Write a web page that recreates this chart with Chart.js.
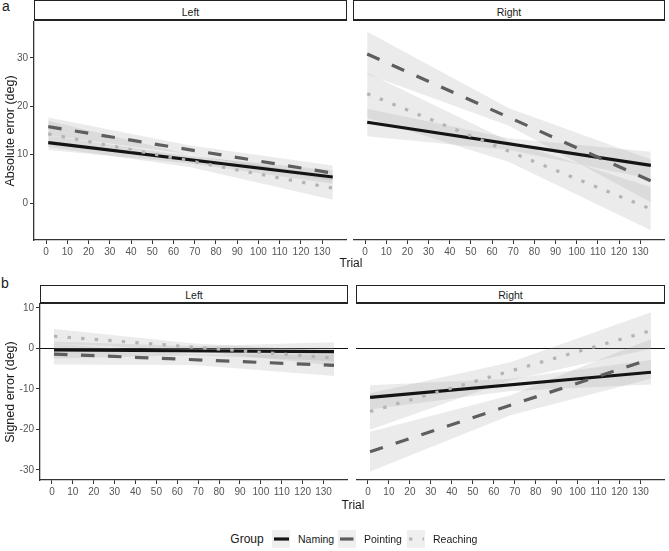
<!DOCTYPE html>
<html>
<head>
<meta charset="utf-8">
<script src="https://cdn.jsdelivr.net/npm/chart.js@4/dist/chart.umd.min.js"></script>
<style>
  body { margin: 0; background: #fff; font-family: "Liberation Sans", Arial, sans-serif; }
  #fig { position: relative; width: 669px; height: 551px; overflow: hidden; }
  #fig canvas { position: absolute; }
  .strip { position: absolute; box-sizing: border-box; background: #fff; border: 1.3px solid #222;
           border-bottom-width: 2px; font-size: 10.5px; color: #1a1a1a; text-align: center; }
  .txt { position: absolute; white-space: nowrap; color: #1a1a1a; transform: translate(-50%, -50%); }
  .rot { transform: translate(-50%, -50%) rotate(-90deg); }
  .key { position: absolute; width: 18px; height: 18px; }
</style>
</head>
<body>
<div id="fig"></div>
<script>
/* Absolute / signed pointing error over trials, linear fits with 95% CI ribbons.
   Two rows (a, b) x two facets (Left, Right). */

// ─── DATA ────────────────────────────────────────────────────
const groups = ['Naming', 'Pointing', 'Reaching'];
const xTicks = [0, 10, 20, 30, 40, 50, 60, 70, 80, 90, 100, 110, 120, 130];
const absTicks = [0, 10, 20, 30];
const signedTicks = [10, 0, -10, -20, -30];

const fitX = [1, 135];        // trial at start / end of each fitted line
const bandX = [1, 68, 135];   // trials where ribbon edges were read

const xRange = [-5.7, 141.7];
const absRange = [-7.6, 37.6];
const signedRange = [-32.5, 11.2];

// rows: Naming, Pointing, Reaching
const absLeftFit = [[12.5, 5.4], [15.8, 6.2], [14.3, 3.1]];
const absLeftLo  = [[11.0, 8.2, 4.0], [14.0, 10.1, 4.5], [11.6, 7.4, 0.7]];
const absLeftHi  = [[13.9, 9.7, 6.8], [17.7, 11.9, 7.8], [17.0, 10.0, 5.6]];

const absRightFit = [[16.7, 7.8], [30.8, 4.6], [22.6, -1.2]];
const absRightLo  = [[13.8, 11.0, 5.0], [26.6, 16.0, 0.2], [17.6, 8.5, -5.6]];
const absRightHi  = [[19.5, 13.4, 10.6], [35.4, 19.6, 9.0], [26.9, 12.8, 3.3]];

const signedLeftFit = [[-0.4, -0.8], [-1.4, -4.2], [3.0, -2.4]];
const signedLeftLo  = [[-2.5, -1.7, -3.1], [-4.0, -4.1, -6.8], [1.2, -0.6, -4.2]];
const signedLeftHi  = [[1.7, 0.5, 1.5], [1.2, -1.5, -1.6], [4.8, 1.2, -0.6]];

const signedRightFit = [[-12.1, -5.9], [-25.5, -2.6], [-15.6, 4.4]];
const signedRightLo  = [[-15.1, -10.5, -8.9], [-30.4, -16.5, -7.5], [-20.1, -7.9, -0.1]];
const signedRightHi  = [[-9.1, -7.5, -2.9], [-20.6, -11.6, 2.3], [-11.1, -3.4, 8.9]];

// ─── STYLE ───────────────────────────────────────────────────
const FONT = "'Liberation Sans', Arial, sans-serif";
const TICK_COLOR = '#555';
const AXIS_COLOR = '#333';
const BAND_FILL = 'rgba(153,153,153,0.2)';
const X_AXIS_H = 22;
const lineStyles = [
  { color: '#141414', dash: [] },
  { color: '#5e5e5e', dash: [13.5, 13.5] },
  { color: '#b4b4b4', dash: [3.4, 10.2] }
];

Chart.defaults.font.family = FONT;

var fig = document.getElementById('fig');

function pts(xs, ys) {
  return xs.map(function(x, i) { return { x: x, y: ys[i] }; });
}

// horizontal reference line at y = 0 (bottom row only)
var zeroLine = {
  id: 'zeroLine',
  beforeDatasetsDraw(chart) {
    var a = chart.chartArea;
    var py = Math.round(chart.scales.y.getPixelForValue(0)) + 0.5;
    var ctx = chart.ctx;
    ctx.save();
    ctx.strokeStyle = '#111';
    ctx.lineWidth = 1;
    ctx.beginPath();
    ctx.moveTo(a.left, py);
    ctx.lineTo(a.right, py);
    ctx.stroke();
    ctx.restore();
  }
};

function makePanel(p) {
  var cv = document.createElement('canvas');
  var w = p.right - p.canvasLeft;
  var h = p.bottom - p.top + X_AXIS_H;
  cv.width = w; cv.height = h;
  cv.style.left = p.canvasLeft + 'px';
  cv.style.top = p.top + 'px';
  cv.style.width = w + 'px';
  cv.style.height = h + 'px';
  fig.appendChild(cv);

  var datasets = [];
  groups.forEach(function(g, i) {
    datasets.push({ data: pts(bandX, p.lo[i]), borderWidth: 0, borderColor: 'rgba(0,0,0,0)',
                    pointRadius: 0, fill: false, order: 10 });
    datasets.push({ data: pts(bandX, p.hi[i]), borderWidth: 0, borderColor: 'rgba(0,0,0,0)',
                    pointRadius: 0, fill: '-1', backgroundColor: BAND_FILL, order: 10 });
  });
  groups.forEach(function(g, i) {
    datasets.push({
      label: g,
      data: pts(fitX, p.fit[i]),
      borderColor: lineStyles[i].color,
      borderWidth: 3.2,
      borderDash: lineStyles[i].dash,
      borderCapStyle: 'butt',
      pointRadius: 0,
      fill: false,
      order: 3 - i
    });
  });

  var tickFont = { size: 10, family: FONT };
  new Chart(cv, {
    type: 'line',
    data: { datasets: datasets },
    plugins: p.zero ? [zeroLine] : [],
    options: {
      responsive: false,
      animation: false,
      layout: { padding: 0 },
      plugins: { legend: { display: false }, tooltip: { enabled: false } },
      scales: {
        x: {
          type: 'linear',
          min: xRange[0], max: xRange[1],
          afterBuildTicks: function(s) { s.ticks = xTicks.map(function(v) { return { value: v }; }); },
          afterFit: function(s) { s.height = X_AXIS_H; s.paddingLeft = 0; s.paddingRight = 0; },
          ticks: { color: TICK_COLOR, font: tickFont, padding: 2, maxRotation: 0, autoSkip: false },
          grid: { drawOnChartArea: false, tickLength: 4, color: AXIS_COLOR },
          border: { color: AXIS_COLOR, width: 1.3 }
        },
        y: {
          type: 'linear',
          display: p.yAxisW > 0,
          min: p.range[0], max: p.range[1],
          afterBuildTicks: function(s) { s.ticks = p.yTicks.map(function(v) { return { value: v }; }); },
          afterFit: function(s) { s.width = p.yAxisW; s.paddingTop = 0; s.paddingBottom = 0; },
          ticks: { color: TICK_COLOR, font: tickFont, padding: 2 },
          grid: { drawOnChartArea: false, tickLength: 4, color: AXIS_COLOR },
          border: { color: AXIS_COLOR, width: 1.3 }
        }
      }
    }
  });
}

function addStrip(text, left, top, width, height, textY) {
  var d = document.createElement('div');
  d.className = 'strip';
  var lh = 2 * (textY - top - 1.3);
  d.style.cssText = 'left:' + left + 'px;top:' + top + 'px;width:' + width + 'px;height:' + height +
                    'px;line-height:' + lh + 'px';
  d.textContent = text;
  fig.appendChild(d);
}

function addText(text, x, y, size, cls) {
  var d = document.createElement('div');
  d.className = 'txt' + (cls ? ' ' + cls : '');
  d.style.left = x + 'px';
  d.style.top = y + 'px';
  d.style.fontSize = size + 'px';
  d.textContent = text;
  fig.appendChild(d);
}

// ─── PANELS ──────────────────────────────────────────────────
var panels = [
  { canvasLeft: 0,   right: 347, top: 21,  bottom: 240, yAxisW: 34, range: absRange, yTicks: absTicks,
    fit: absLeftFit, lo: absLeftLo, hi: absLeftHi, strip: 'Left', stripTop: 0, stripH: 21, stripTextY: 12.5 },
  { canvasLeft: 353, right: 665, top: 21,  bottom: 240, yAxisW: 0,  range: absRange, yTicks: absTicks,
    fit: absRightFit, lo: absRightLo, hi: absRightHi, strip: 'Right', stripTop: 0, stripH: 21, stripTextY: 12.5 },
  { canvasLeft: 0,   right: 348, top: 303, bottom: 480, yAxisW: 40, range: signedRange, yTicks: signedTicks,
    fit: signedLeftFit, lo: signedLeftLo, hi: signedLeftHi, strip: 'Left', stripTop: 285, stripH: 19,
    stripTextY: 295.5, zero: true },
  { canvasLeft: 356, right: 665, top: 303, bottom: 480, yAxisW: 0,  range: signedRange, yTicks: signedTicks,
    fit: signedRightFit, lo: signedRightLo, hi: signedRightHi, strip: 'Right', stripTop: 285, stripH: 19,
    stripTextY: 295.5, zero: true }
];

panels.forEach(function(p) {
  makePanel(p);
  var l = p.canvasLeft + p.yAxisW;
  addStrip(p.strip, l, p.stripTop, p.right - l, p.stripH, p.stripTextY);
});

// tags and axis titles
addText('a', 6, 6, 14);
addText('b', 5, 283, 14);
addText('Absolute error (deg)', 10, 131, 12.5, 'rot');
addText('Signed error (deg)', 10, 392, 12.5, 'rot');
addText('Trial', 351, 263, 12);
addText('Trial', 353, 505, 12);

// ─── LEGEND ──────────────────────────────────────────────────
addText('Group', 247, 539, 12);
var keyX = [272, 338, 407];
groups.forEach(function(g, i) {
  var c = document.createElement('canvas');
  c.className = 'key';
  c.width = 18; c.height = 18;
  c.style.left = keyX[i] + 'px';
  c.style.top = '530px';
  fig.appendChild(c);
  var ctx = c.getContext('2d');
  ctx.fillStyle = '#efefef';
  ctx.fillRect(0, 0, 18, 18);
  ctx.strokeStyle = lineStyles[i].color;
  ctx.lineWidth = 3.2;
  ctx.setLineDash(lineStyles[i].dash);
  ctx.beginPath();
  ctx.moveTo(2, 9);
  ctx.lineTo(17, 9);
  ctx.stroke();

  var t = document.createElement('div');
  t.className = 'txt';
  t.style.cssText = 'left:' + (keyX[i] + 26) + 'px;top:539px;font-size:10.5px;transform:translate(0,-50%)';
  t.textContent = g;
  fig.appendChild(t);
});
</script>
</body>
</html>
